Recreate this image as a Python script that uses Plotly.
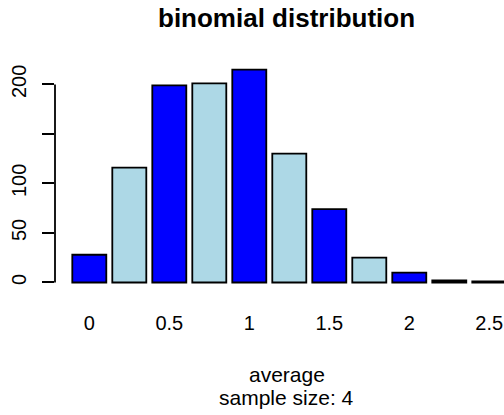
import plotly.graph_objects as go

averages = [0, 0.25, 0.5, 0.75, 1.0, 1.25, 1.5, 1.75, 2.0, 2.25, 2.5]
counts = [28, 116, 199, 201, 215, 130, 74, 25, 10, 2, 1]
bar_colors = ["#0000FF", "#ADD8E6"]
colors = [bar_colors[i % 2] for i in range(len(counts))]

x_tickvals = [0, 0.5, 1.0, 1.5, 2.0, 2.5]
x_ticktext = ["0", "0.5", "1", "1.5", "2", "2.5"]
y_tickvals = [0, 50, 100, 150, 200]
y_ticktext = ["0", "50", "100", "", "200"]

FONT = "Liberation Sans, Arial, Helvetica, sans-serif"

W, H = 504, 415
T, B, L = 61.6, 124.2, 55
PH = H - T - B


def py(pix):
    return (H - B - pix) / PH


fig = go.Figure()
fig.add_trace(go.Bar(
    x=averages, y=counts,
    marker=dict(color=colors, line=dict(color="black", width=1.8)),
    hoverinfo="x+y",
))

fig.update_layout(
    width=W, height=H,
    margin=dict(l=L, r=0, t=T, b=B, pad=0, autoexpand=False),
    paper_bgcolor="white", plot_bgcolor="white",
    showlegend=False,
    bargap=0.15,
    font=dict(family=FONT, size=20, color="black"),
    xaxis=dict(
        range=[-0.2144, 2.592], automargin=False,
        tickvals=x_tickvals, ticktext=x_ticktext,
        ticks="", showgrid=False, zeroline=False, showline=False,
        tickfont=dict(size=20), ticklabelstandoff=18,
    ),
    yaxis=dict(
        range=[-8.6, 222.6], automargin=False,
        tickvals=y_tickvals, ticktext=y_ticktext,
        ticks="outside", ticklen=12, tickwidth=1.8, tickcolor="black",
        tickangle=-90, tickfont=dict(size=20), ticklabelstandoff=8,
        showgrid=False, zeroline=False, showline=False,
    ),
    shapes=[dict(
        type="line", xref="paper", yref="y",
        x0=0, x1=0, y0=y_tickvals[0], y1=y_tickvals[-1],
        line=dict(color="black", width=1.8),
    )],
    annotations=[
        dict(text="<b>binomial distribution</b>", xref="paper", yref="paper",
             x=0.5167, y=py(18), xanchor="center", yanchor="middle",
             showarrow=False, font=dict(size=26, family=FONT)),
        dict(text="average", xref="paper", yref="paper",
             x=0.5167, y=py(374), xanchor="center", yanchor="middle",
             showarrow=False, font=dict(size=21, family=FONT)),
        dict(text="sample size: 4", xref="paper", yref="paper",
             x=0.5167, y=py(397), xanchor="center", yanchor="middle",
             showarrow=False, font=dict(size=21, family=FONT)),
    ],
)

fig.write_html(
    "out.html",
    config={"displayModeBar": False},
    post_script=(
        "document.body.style.margin='0';"
        "document.body.style.overflow='hidden';"
        "document.documentElement.style.overflow='hidden';"
    ),
)
